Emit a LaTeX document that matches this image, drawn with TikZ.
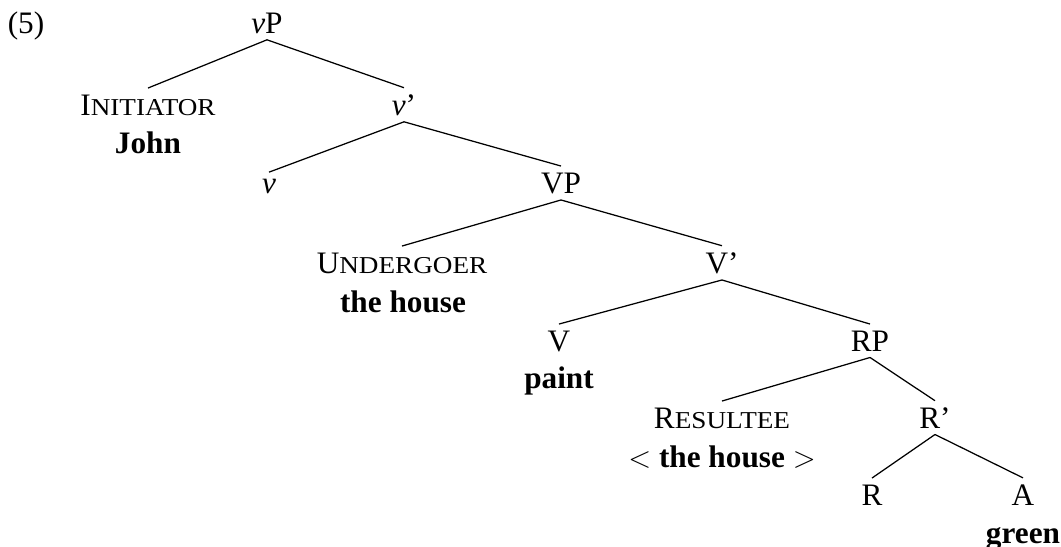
\documentclass[tikz,border=0pt]{standalone}
\usepackage{fontspec}
\setmainfont{Liberation Serif}
\usepackage{graphicx}
\usepackage{tikz}
\usetikzlibrary{positioning}

% small caps look: capital initial, wider smaller capitals after it
\newcommand{\rolename}[2]{#1\scalebox{1.12}[1]{\fontsize{9.7}{11}\selectfont #2}}

\begin{document}
\begin{tikzpicture}[
    x=0.4pt, y=-0.4pt,
    cat/.style={anchor=base, inner xsep=1pt, inner ysep=2.4pt, font=\fontsize{12.5}{15}\selectfont},
    branch/.style={line width=0.5pt},
]
    \useasboundingbox (0,0) rectangle (1061,547);

    \node[cat] (ex) at (26,33) {(5)};

    \node[cat] (vP) at (267,33) {\textit{v}P};

    \node[cat] (init) at (148,115) {\rolename{I}{NITIATOR}};
    \node[cat] (john) at (148,153) {\textbf{John}};
    \node[cat] (vbar) at (404,115) {\textit{v}'};

    \node[cat] (v) at (269,193) {\textit{v}};
    \node[cat] (VP) at (561,193) {VP};

    \node[cat] (und) at (402,273) {\rolename{U}{NDERGOER}};
    \node[cat] (house) at (403,312) {\textbf{the house}};
    \node[cat] (Vbar) at (722,273) {V'};

    \node[cat] (V) at (559,351) {V};
    \node[cat] (paint) at (559,388) {\textbf{paint}};
    \node[cat] (RP) at (870,351) {RP};

    \node[cat] (res) at (722,428) {\rolename{R}{ESULTEE}};
    \node[cat] (trace) at (722,467) {$<$ \textbf{the house} $>$};
    \node[cat] (Rbar) at (935,428) {R'};

    \node[cat] (R) at (872,505) {R};
    \node[cat] (A) at (1023,505) {A};
    \node[cat] (green) at (1023,543) {\textbf{green}};

    % branches
    \draw[branch] (vP.south) -- (init.north);
    \draw[branch] (vP.south) -- (vbar.north);
    \draw[branch] (vbar.south) -- (v.north);
    \draw[branch] (vbar.south) -- (VP.north);
    \draw[branch] (VP.south) -- (und.north);
    \draw[branch] (VP.south) -- (Vbar.north);
    \draw[branch] (Vbar.south) -- (V.north);
    \draw[branch] (Vbar.south) -- (RP.north);
    \draw[branch] (RP.south) -- (res.north);
    \draw[branch] (RP.south) -- (Rbar.north);
    \draw[branch] (Rbar.south) -- (R.north);
    \draw[branch] (Rbar.south) -- (A.north);
\end{tikzpicture}
\end{document}
